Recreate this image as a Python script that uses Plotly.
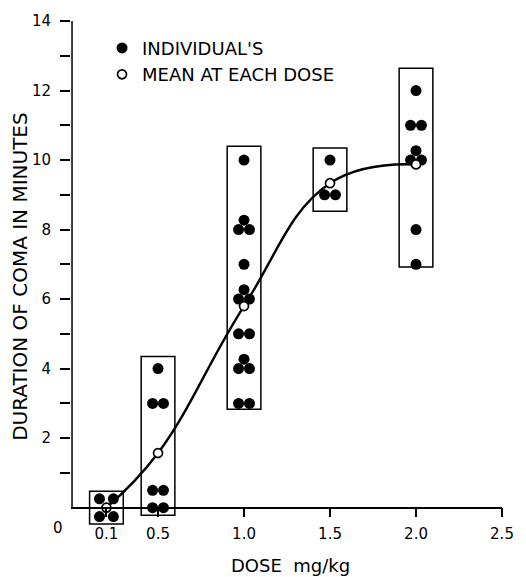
import numpy as np
import plotly.graph_objects as go

# ---------------- data ----------------
doses = [0.1, 0.5, 1.0, 1.5, 2.0]
coma_01 = [0, 0, 0, 0]
coma_05 = [4, 3, 3, 0.5, 0.5, 0, 0]
coma_10 = [10, 8, 8, 8, 7, 6, 6, 6, 5, 5, 4, 4, 4, 3, 3]
coma_15 = [10, 9, 9]
coma_20 = [12, 11, 11, 10, 10, 10, 8, 7]
individuals = [coma_01, coma_05, coma_10, coma_15, coma_20]

# range boxes drawn around each dose group
box_low = [-0.47, -0.22, 2.83, 8.53, 6.92]
box_high = [0.47, 4.35, 10.40, 10.35, 12.64]

x_tick_doses = [0.1, 0.5, 1.0, 1.5, 2.0, 2.5]
x_tick_text = ["0.1", "0.5", "1.0", "1.5", "2.0", "2.5"]
y_tick_vals = list(range(1, 15))
y_tick_text = [str(v) if v % 2 == 0 else "" for v in y_tick_vals]

means = [float(np.mean(v)) for v in individuals]

# ---------------- layout constants ----------------
W, H = 526, 577
ML, MR, MT, MB = 71, 20, 15, 45
XR = [-0.006, 2.5]
YR = [-0.7, 14]
FONT = "DejaVu Sans"

# the original axis is broken near the origin: dose 0.1 is drawn at 0.2
def axis_x(d):
    return 0.2 if d == 0.1 else d

px_x = (W - ML - MR) / (XR[1] - XR[0])
px_y = (H - MT - MB) / (YR[1] - YR[0])

# pixel offsets used to show coincident individuals as small clusters
CLUSTER = {
    1: [(0, 0)],
    2: [(-5.5, 0), (5.5, 0)],
    3: [(0, 9.5), (-5.5, 0), (5.5, 0)],
    4: [(-7, 9), (7, 9), (-7, -9), (7, -9)],
}

ind_x, ind_y = [], []
for d, vals in zip(doses, individuals):
    for v in sorted(set(vals), reverse=True):
        n = vals.count(v)
        for dx, dy in CLUSTER[n]:
            ind_x.append(axis_x(d) + dx / px_x)
            ind_y.append(v + dy / px_y)

fig = go.Figure()

fig.add_trace(go.Scatter(
    x=[axis_x(d) for d in doses], y=means, mode="lines",
    line=dict(color="black", width=2.4, shape="spline", smoothing=1.2),
    showlegend=False, hoverinfo="skip"))

fig.add_trace(go.Scatter(
    x=ind_x, y=ind_y, mode="markers", name="INDIVIDUAL'S",
    marker=dict(size=11, color="black"), cliponaxis=False))

fig.add_trace(go.Scatter(
    x=[axis_x(d) for d in doses], y=means, mode="markers",
    name="MEAN AT EACH DOSE",
    marker=dict(size=9, color="white", line=dict(color="black", width=1.7)),
    cliponaxis=False))

half_w = 17 / px_x
shapes = []
for d, lo, hi in zip(doses, box_low, box_high):
    shapes.append(dict(type="rect", xref="x", yref="y",
                       x0=axis_x(d) - half_w, x1=axis_x(d) + half_w,
                       y0=lo, y1=hi, line=dict(color="black", width=1.5),
                       layer="below"))
# y axis line from 0 to 14
shapes.append(dict(type="line", xref="x", yref="y", x0=0, x1=0, y0=0, y1=14,
                   line=dict(color="black", width=1.5)))

fig.update_layout(
    width=W, height=H,
    margin=dict(l=ML, r=MR, t=MT, b=MB),
    paper_bgcolor="white", plot_bgcolor="white",
    font=dict(family=FONT, color="black", size=15),
    shapes=shapes,
    showlegend=True,
    legend=dict(x=0.072, y=0.983, xanchor="left", yanchor="top",
                font=dict(size=18, family=FONT), bgcolor="rgba(0,0,0,0)",
                itemsizing="trace"),
    xaxis=dict(range=XR, anchor="free",
               position=(0 - YR[0]) / (YR[1] - YR[0]),
               showline=True, linecolor="black", linewidth=1.5,
               ticks="outside", ticklen=9, tickwidth=1.5, tickcolor="black",
               tickvals=[axis_x(d) for d in x_tick_doses], ticktext=x_tick_text,
               showgrid=False, zeroline=False,
               tickfont=dict(size=15, family=FONT), ticklabelstandoff=4),
    yaxis=dict(range=YR, showline=False,
               ticks="outside", ticklen=10, tickwidth=1.5, tickcolor="black",
               tickvals=y_tick_vals, ticktext=y_tick_text,
               showgrid=False, zeroline=False,
               tickfont=dict(size=15, family=FONT), ticklabelstandoff=6),
    annotations=[
        dict(text="DURATION OF COMA IN MINUTES", textangle=-90,
             xref="paper", x=0, xanchor="center", xshift=-51,
             yref="y", y=6.64, yanchor="middle",
             showarrow=False, font=dict(size=20, family=FONT)),
        dict(text="DOSE\u00a0 mg/kg", xref="paper", x=0.5, xanchor="center",
             xshift=4, yref="y", y=0,
             yshift=-58, showarrow=False, font=dict(size=18, family=FONT)),
        dict(text="0", xref="x", x=0, xshift=-14, yref="y", y=0, yshift=-20,
             showarrow=False, font=dict(size=15, family=FONT)),
    ],
)

fig.write_html("out.html")
